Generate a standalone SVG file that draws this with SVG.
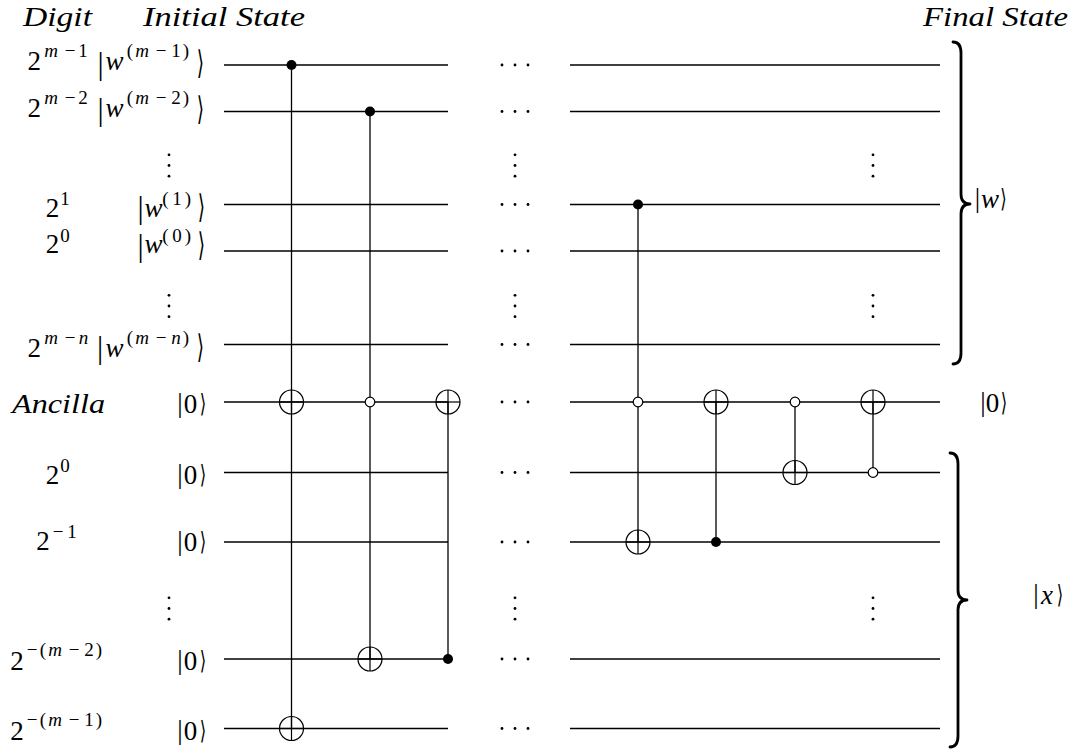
<svg xmlns="http://www.w3.org/2000/svg" xmlns:xlink="http://www.w3.org/1999/xlink" width="1073" height="749" viewBox="0 0 1073 749" font-family="Liberation Serif, serif">
<style>
.t{font-size:27px;fill:#000}
.s{font-size:19px}
.i{font-style:italic}
.bb{font-size:31px}
.br{font-size:26px}
.bs{font-size:22px}
.w{stroke:#000;stroke-width:1.3;fill:none}
.c{stroke:#000;stroke-width:1.3;fill:none}
.tc{stroke:#000;stroke-width:1.2;fill:none}
.oc{stroke:#000;stroke-width:1.2;fill:#fff}
.fc{fill:#000}
.dt{fill:#000}
.brace{stroke:#000;stroke-width:2.8;fill:none;stroke-linecap:round;stroke-linejoin:round}
</style>
<defs>
<g id="tgt"><circle r="12" class="tc"/><line x1="-12" y1="0" x2="12" y2="0" class="tc"/><line x1="0" y1="-12" x2="0" y2="12" class="tc"/></g>
<circle id="ctl" r="5" class="fc"/>
<circle id="octl" r="4.8" class="oc"/>
<g id="hd"><circle cx="-13" r="1.4" class="dt"/><circle cx="0" r="1.4" class="dt"/><circle cx="13" r="1.4" class="dt"/></g>
<g id="vd"><circle cy="-10.7" r="1.4" class="dt"/><circle cy="0" r="1.4" class="dt"/><circle cy="10.7" r="1.4" class="dt"/></g>
</defs>
<rect width="1073" height="749" fill="#fff"/>

<g id="headers" class="t" font-family="Liberation Serif, serif" font-style="italic">
<text x="23" y="26" textLength="69" lengthAdjust="spacingAndGlyphs">Digit</text>
<text x="143" y="26" textLength="162" lengthAdjust="spacingAndGlyphs">Initial State</text>
<text x="923" y="26" textLength="145" lengthAdjust="spacingAndGlyphs">Final State</text>
</g>

<g id="wires">
<g class="w">
<line x1="224" y1="65" x2="448" y2="65"/><line x1="570" y1="65" x2="940" y2="65"/>
<line x1="224" y1="111.5" x2="448" y2="111.5"/><line x1="570" y1="111.5" x2="940" y2="111.5"/>
<line x1="224" y1="204.5" x2="448" y2="204.5"/><line x1="570" y1="204.5" x2="940" y2="204.5"/>
<line x1="224" y1="251" x2="448" y2="251"/><line x1="570" y1="251" x2="940" y2="251"/>
<line x1="224" y1="344.5" x2="448" y2="344.5"/><line x1="570" y1="344.5" x2="940" y2="344.5"/>
<line x1="224" y1="402" x2="448" y2="402"/><line x1="570" y1="402" x2="940" y2="402"/>
<line x1="224" y1="472.5" x2="448" y2="472.5"/><line x1="570" y1="472.5" x2="940" y2="472.5"/>
<line x1="224" y1="542" x2="448" y2="542"/><line x1="570" y1="542" x2="940" y2="542"/>
<line x1="224" y1="659" x2="448" y2="659"/><line x1="570" y1="659" x2="940" y2="659"/>
<line x1="224" y1="728.5" x2="448" y2="728.5"/><line x1="570" y1="728.5" x2="940" y2="728.5"/>
</g>
</g>

<g id="dots">
<use xlink:href="#hd" x="515" y="65"/>
<use xlink:href="#hd" x="515" y="111.5"/>
<use xlink:href="#hd" x="515" y="204.5"/>
<use xlink:href="#hd" x="515" y="251"/>
<use xlink:href="#hd" x="515" y="344.5"/>
<use xlink:href="#hd" x="515" y="402"/>
<use xlink:href="#hd" x="515" y="472.5"/>
<use xlink:href="#hd" x="515" y="542"/>
<use xlink:href="#hd" x="515" y="659"/>
<use xlink:href="#hd" x="515" y="728.5"/>
<use xlink:href="#vd" x="169" y="165.5"/>
<use xlink:href="#vd" x="169" y="306"/>
<use xlink:href="#vd" x="169" y="608.5"/>
<use xlink:href="#vd" x="515" y="165.5"/>
<use xlink:href="#vd" x="515" y="306"/>
<use xlink:href="#vd" x="515" y="608.5"/>
<use xlink:href="#vd" x="873" y="165.5"/>
<use xlink:href="#vd" x="873" y="306"/>
<use xlink:href="#vd" x="873" y="608.5"/>
</g>

<g id="connectors" class="c">
<line x1="291.5" y1="65" x2="291.5" y2="728.5"/>
<line x1="370" y1="111.5" x2="370" y2="659"/>
<line x1="448" y1="402" x2="448" y2="659"/>
<line x1="638" y1="204.5" x2="638" y2="542"/>
<line x1="716" y1="402" x2="716" y2="542"/>
<line x1="795" y1="402" x2="795" y2="472.5"/>
<line x1="873" y1="402" x2="873" y2="472.5"/>
</g>

<g id="gate1"><use xlink:href="#ctl" x="291.5" y="65"/><use xlink:href="#tgt" x="291.5" y="402"/><use xlink:href="#tgt" x="291.5" y="728.5"/></g>
<g id="gate2"><use xlink:href="#ctl" x="370" y="111.5"/><use xlink:href="#octl" x="370" y="402"/><use xlink:href="#tgt" x="370" y="659"/></g>
<g id="gate3"><use xlink:href="#tgt" x="448" y="402"/><use xlink:href="#ctl" x="448" y="659"/></g>
<g id="gate4"><use xlink:href="#ctl" x="638" y="204.5"/><use xlink:href="#octl" x="638" y="402"/><use xlink:href="#tgt" x="638" y="542"/></g>
<g id="gate5"><use xlink:href="#tgt" x="716" y="402"/><use xlink:href="#ctl" x="716" y="542"/></g>
<g id="gate6"><use xlink:href="#octl" x="795" y="402"/><use xlink:href="#tgt" x="795" y="472.5"/></g>
<g id="gate7"><use xlink:href="#tgt" x="873" y="402"/><use xlink:href="#octl" x="873" y="472.5"/></g>

<g id="digit-labels" class="t" font-family="Liberation Serif, serif" text-anchor="middle">
<text y="70"><tspan x="34.2">2</tspan></text>
<text class="s" y="57"><tspan x="51" class="i">m</tspan><tspan x="70">−</tspan><tspan x="83">1</tspan></text>
<text y="116.5"><tspan x="34.2">2</tspan></text>
<text class="s" y="103.5"><tspan x="51" class="i">m</tspan><tspan x="70">−</tspan><tspan x="83">2</tspan></text>
<text y="216.5"><tspan x="52.5">2</tspan></text>
<text class="s" y="205"><tspan x="65">1</tspan></text>
<text y="253"><tspan x="52.5">2</tspan></text>
<text class="s" y="241.5"><tspan x="65">0</tspan></text>
<text y="356.5"><tspan x="34.2">2</tspan></text>
<text class="s" y="343.5"><tspan x="51" class="i">m</tspan><tspan x="70">−</tspan><tspan x="83.5" class="i">n</tspan></text>
<text y="484"><tspan x="52.5">2</tspan></text>
<text class="s" y="472"><tspan x="65">0</tspan></text>
<text y="550"><tspan x="43">2</tspan></text>
<text class="s" y="538"><tspan x="58">−</tspan><tspan x="72">1</tspan></text>
<text y="670"><tspan x="17">2</tspan></text>
<text class="s" y="656"><tspan x="32">−</tspan><tspan x="43">(</tspan><tspan x="55" class="i">m</tspan><tspan x="74">−</tspan><tspan x="89">2</tspan><tspan x="99">)</tspan></text>
<text y="740"><tspan x="17">2</tspan></text>
<text class="s" y="726"><tspan x="32">−</tspan><tspan x="43">(</tspan><tspan x="55" class="i">m</tspan><tspan x="74">−</tspan><tspan x="89">1</tspan><tspan x="99">)</tspan></text>
</g>
<g id="ancilla-label" class="t" font-family="Liberation Serif, serif" font-style="italic"><text x="12" y="413" textLength="93" lengthAdjust="spacingAndGlyphs">Ancilla</text></g>

<g id="initial-kets" class="t" font-family="Liberation Serif, serif" text-anchor="middle">
<text y="70"><tspan class="bb" x="100.5" y="73.7">|</tspan><tspan class="i" x="114.5" y="70">w</tspan></text>
<text class="s" y="57"><tspan x="130">(</tspan><tspan x="142" class="i">m</tspan><tspan x="161">−</tspan><tspan x="176">1</tspan><tspan x="186">)</tspan></text>
<text class="br" font-family="DejaVu Sans, sans-serif" transform="translate(200.5,73.5) scale(0.72,1.25)">⟩</text>

<text y="116.5"><tspan class="bb" x="100.5" y="120.2">|</tspan><tspan class="i" x="114.5" y="116.5">w</tspan></text>
<text class="s" y="103.5"><tspan x="130">(</tspan><tspan x="142" class="i">m</tspan><tspan x="161">−</tspan><tspan x="176">2</tspan><tspan x="186">)</tspan></text>
<text class="br" font-family="DejaVu Sans, sans-serif" transform="translate(200.5,120) scale(0.72,1.25)">⟩</text>

<text y="216.5"><tspan class="bb" x="140.5" y="217.7">|</tspan><tspan class="i" x="153.5" y="216.5">w</tspan></text>
<text class="s" y="205"><tspan x="165.5">(</tspan><tspan x="177">1</tspan><tspan x="188">)</tspan></text>
<text class="br" font-family="DejaVu Sans, sans-serif" transform="translate(201.5,217.5) scale(0.72,1.25)">⟩</text>

<text y="253"><tspan class="bb" x="140.5" y="255.7">|</tspan><tspan class="i" x="153.5" y="253">w</tspan></text>
<text class="s" y="241.5"><tspan x="165.5">(</tspan><tspan x="177">0</tspan><tspan x="188">)</tspan></text>
<text class="br" font-family="DejaVu Sans, sans-serif" transform="translate(201.5,255.5) scale(0.72,1.25)">⟩</text>

<text y="356.5"><tspan class="bb" x="100" y="357.7">|</tspan><tspan class="i" x="114.5" y="356.5">w</tspan></text>
<text class="s" y="343.5"><tspan x="130">(</tspan><tspan x="142" class="i">m</tspan><tspan x="161">−</tspan><tspan x="176" class="i">n</tspan><tspan x="186">)</tspan></text>
<text class="br" font-family="DejaVu Sans, sans-serif" transform="translate(200.5,357.5) scale(0.72,1.25)">⟩</text>

<text y="413"><tspan x="180" y="412">|</tspan><tspan x="190.5" y="413">0</tspan></text><text class="bs" font-family="DejaVu Sans, sans-serif" transform="translate(203,412) scale(0.75,1.15)">⟩</text>
<text y="484"><tspan x="180" y="483">|</tspan><tspan x="190.5" y="484">0</tspan></text><text class="bs" font-family="DejaVu Sans, sans-serif" transform="translate(203,483) scale(0.75,1.15)">⟩</text>
<text y="551"><tspan x="180" y="550">|</tspan><tspan x="190.5" y="551">0</tspan></text><text class="bs" font-family="DejaVu Sans, sans-serif" transform="translate(203,550) scale(0.75,1.15)">⟩</text>
<text y="670"><tspan x="180" y="669">|</tspan><tspan x="190.5" y="670">0</tspan></text><text class="bs" font-family="DejaVu Sans, sans-serif" transform="translate(203,669) scale(0.75,1.15)">⟩</text>
<text y="740"><tspan x="180" y="739">|</tspan><tspan x="190.5" y="740">0</tspan></text><text class="bs" font-family="DejaVu Sans, sans-serif" transform="translate(203,739) scale(0.75,1.15)">⟩</text>
</g>

<g id="braces">
<path class="brace" d="M953,42 Q961,42 961,53 L961,194 Q961,204 970,204 Q961,204 961,214 L961,353 Q961,364 953,364"/>
<path class="brace" d="M950,453 Q958,453 958,464 L958,590 Q958,600 967,600 Q958,600 958,610 L958,736 Q958,747 950,747"/>
</g>

<g id="final-kets" class="t" font-family="Liberation Serif, serif" text-anchor="middle">
<text y="208"><tspan x="977.5" y="207">|</tspan><tspan class="i" x="990" y="208">w</tspan></text><text class="bs" font-family="DejaVu Sans, sans-serif" transform="translate(1003.5,207) scale(0.75,1.15)">⟩</text>
<text y="412"><tspan x="983" y="411">|</tspan><tspan x="992.5" y="412">0</tspan></text><text class="bs" font-family="DejaVu Sans, sans-serif" transform="translate(1004,411) scale(0.75,1.15)">⟩</text>
<text y="604"><tspan x="1036" y="603">|</tspan><tspan class="i" x="1047" y="604">x</tspan></text><text class="bs" font-family="DejaVu Sans, sans-serif" transform="translate(1060,603) scale(0.75,1.15)">⟩</text>
</g>
</svg>
